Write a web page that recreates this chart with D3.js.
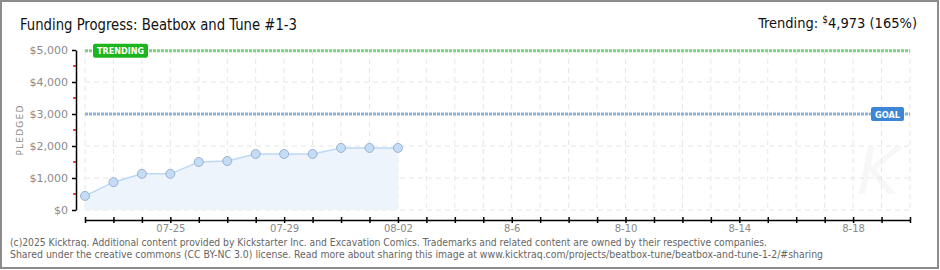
<!DOCTYPE html>
<html>
<head>
<meta charset="utf-8">
<script src="https://cdn.jsdelivr.net/npm/d3@7"></script>
<style>
body { margin: 0; background: #fff; }
svg { display: block; }
</style>
</head>
<body>
<svg id="chart" width="940" height="270"></svg>
<script>
var Days = ["2025-07-22","2025-07-23","2025-07-24","2025-07-25","2025-07-26","2025-07-27",
	"2025-07-28","2025-07-29","2025-07-30","2025-07-31","2025-08-01","2025-08-02"];
var Pledged = [440, 870, 1130, 1130, 1500, 1530, 1750, 1750, 1750, 1940, 1940, 1940];
var Goal = 3000;
var Trending = 4973;
var YTicks = [0, 1000, 2000, 3000, 4000, 5000];
var YMinor = [500, 1500, 2500, 3500, 4500];
var XLabelDays = ["2025-07-25","2025-07-29","2025-08-02","2025-08-06","2025-08-10","2025-08-14","2025-08-18"];
var XLabels = ["07-25","07-29","08-02","8-6","8-10","8-14","8-18"];
var XDomain = ["2025-07-22","2025-08-20"];

var parse = d3.utcParse("%Y-%m-%d");
var Data = Days.map(function(d, i) { return {date: parse(d), value: Pledged[i]}; });

var svg = d3.select("#chart");

var x = d3.scaleUtc().domain(XDomain.map(parse)).range([85, 910]);
var y = d3.scaleLinear().domain([0, 5000]).range([210, 50]);

// frame
svg.append("rect").attr("x", 1).attr("y", 1).attr("width", 937).attr("height", 267)
	.attr("fill", "#fff").attr("stroke", "#8c8c8c").attr("stroke-width", 2);

// watermark
svg.append("text").attr("x", 878).attr("y", 194).attr("text-anchor", "middle")
	.attr("font-family", "DejaVu Sans").attr("font-style", "italic").attr("font-size", 64)
	.attr("fill", "#f7f7f7").text("K");

// grid
var allDays = d3.utcDay.range(parse(XDomain[0]), d3.utcDay.offset(parse(XDomain[1]), 1));
svg.append("g").selectAll("line").data(allDays).join("line")
	.attr("x1", function(d) { return x(d); }).attr("x2", function(d) { return x(d); })
	.attr("y1", 50).attr("y2", 210)
	.attr("stroke", "#e6e6e6").attr("stroke-dasharray", "5,4");
svg.append("g").selectAll("line").data(YTicks).join("line")
	.attr("x1", 85).attr("x2", 910)
	.attr("y1", function(d) { return y(d); }).attr("y2", function(d) { return y(d); })
	.attr("stroke", "#e6e6e6").attr("stroke-dasharray", "5,4");

// area + line
var area = d3.area().x(function(d) { return x(d.date); }).y0(y(0)).y1(function(d) { return y(d.value); });
var line = d3.line().x(function(d) { return x(d.date); }).y(function(d) { return y(d.value); });
svg.append("path").datum(Data).attr("d", area).attr("fill", "#edf4fc");
svg.append("path").datum(Data).attr("d", line).attr("fill", "none")
	.attr("stroke", "#bcd8f4").attr("stroke-width", 1.5);

// goal & trending lines
svg.append("line").attr("x1", 85).attr("x2", 910).attr("y1", y(Goal)).attr("y2", y(Goal))
	.attr("stroke", "#8fb1d9").attr("stroke-width", 3).attr("stroke-dasharray", "3,1");
svg.append("line").attr("x1", 85).attr("x2", 910).attr("y1", y(Trending)).attr("y2", y(Trending))
	.attr("stroke", "#7fd27f").attr("stroke-width", 3).attr("stroke-dasharray", "3,1");

// points
svg.append("g").selectAll("circle").data(Data).join("circle")
	.attr("cx", function(d) { return x(d.date); }).attr("cy", function(d) { return y(d.value); })
	.attr("r", 4.5).attr("fill", "#c4dcf6").attr("stroke", "#98b2cf").attr("stroke-width", 1);

// labels on lines
var trendG = svg.append("g").attr("transform", "translate(93," + y(Trending) + ")");
trendG.append("rect").attr("x", 0).attr("y", -7).attr("width", 55).attr("height", 14).attr("rx", 2)
	.attr("fill", "#1db51d");
trendG.append("text").attr("x", 27.5).attr("y", 3.5).attr("text-anchor", "middle")
	.attr("font-family", "DejaVu Sans").attr("font-weight", "bold").attr("font-size", 8.5)
	.attr("fill", "#fff").attr("textLength", 47).attr("lengthAdjust", "spacingAndGlyphs").text("TRENDING");

var goalG = svg.append("g").attr("transform", "translate(871," + y(Goal) + ")");
goalG.append("rect").attr("x", 0).attr("y", -7).attr("width", 33).attr("height", 14).attr("rx", 2)
	.attr("fill", "#3d86d6");
goalG.append("text").attr("x", 16.5).attr("y", 3.5).attr("text-anchor", "middle")
	.attr("font-family", "DejaVu Sans").attr("font-weight", "bold").attr("font-size", 8.5)
	.attr("fill", "#fff").attr("textLength", 25).attr("lengthAdjust", "spacingAndGlyphs").text("GOAL");

// y axis
var yAxis = d3.axisLeft(y).tickValues(YTicks).tickSize(4).tickSizeOuter(0)
	.tickFormat(function(d) { return "$" + d3.format(",")(d); });
var yG = svg.append("g").attr("transform", "translate(76,0)").call(yAxis);
yG.select(".domain").attr("stroke", "#000").attr("stroke-width", 1.5);
yG.selectAll(".tick line").attr("stroke", "#000").attr("stroke-width", 1.5);
yG.selectAll(".tick text").attr("x", -8).attr("fill", "#8a8a8a")
	.attr("font-family", "DejaVu Sans").attr("font-size", 11);
yG.append("g").selectAll("line").data(YMinor).join("line")
	.attr("x1", -3).attr("x2", 0)
	.attr("y1", function(d) { return y(d); }).attr("y2", function(d) { return y(d); })
	.attr("stroke", "#e00").attr("stroke-width", 1.5);

svg.append("text").attr("transform", "translate(23,130) rotate(-90)").attr("text-anchor", "middle")
	.attr("font-family", "DejaVu Sans").attr("font-size", 9).attr("letter-spacing", 1.2)
	.attr("fill", "#8a8a8a").text("PLEDGED");

// x axis
var xAxis = d3.axisBottom(x).tickValues(allDays).tickSize(3).tickSizeOuter(0)
	.tickFormat(function(d) {
		var k = XLabelDays.indexOf(d3.utcFormat("%Y-%m-%d")(d));
		return k < 0 ? "" : XLabels[k];
	});
var xG = svg.append("g").attr("transform", "translate(0,220)").call(xAxis);
xG.select(".domain").attr("stroke", "#000").attr("stroke-width", 1.5);
xG.selectAll(".tick line").attr("y1", -3).attr("y2", 3).attr("stroke", "#000").attr("stroke-width", 1.5);
xG.selectAll(".tick text").attr("y", 5).attr("fill", "#8a8a8a")
	.attr("font-family", "DejaVu Sans").attr("font-size", 10);

// title
svg.append("text").attr("x", 20).attr("y", 30)
	.attr("font-family", "DejaVu Sans Condensed").attr("font-size", 15.5).attr("fill", "#111")
	.attr("textLength", 277).attr("lengthAdjust", "spacingAndGlyphs")
	.text("Funding Progress: Beatbox and Tune #1-3");

var tr = svg.append("text").attr("x", 917).attr("y", 28).attr("text-anchor", "end")
	.attr("font-family", "DejaVu Sans Condensed").attr("font-size", 14.5).attr("fill", "#111");
tr.append("tspan").text("Trending:  ");
tr.append("tspan").attr("font-size", 10).attr("dy", -5).text("$");
tr.append("tspan").attr("dy", 5).text(d3.format(",")(Trending) + " (165%)");

// footer
var foot = [
	"(c)2025 Kicktraq. Additional content provided by Kickstarter Inc. and Excavation Comics. Trademarks and related content are owned by their respective companies.",
	"Shared under the creative commons (CC BY-NC 3.0) license. Read more about sharing this image at www.kicktraq.com/projects/beatbox-tune/beatbox-and-tune-1-2/#sharing"
];
var footLen = [757, 813];
svg.append("g").selectAll("text").data(foot).join("text")
	.attr("x", 10).attr("y", function(d, i) { return 246 + i * 12; })
	.attr("font-family", "DejaVu Sans").attr("font-size", 10).attr("fill", "#666")
	.attr("textLength", function(d, i) { return footLen[i]; }).attr("lengthAdjust", "spacingAndGlyphs")
	.text(function(d) { return d; });
</script>
</body>
</html>
